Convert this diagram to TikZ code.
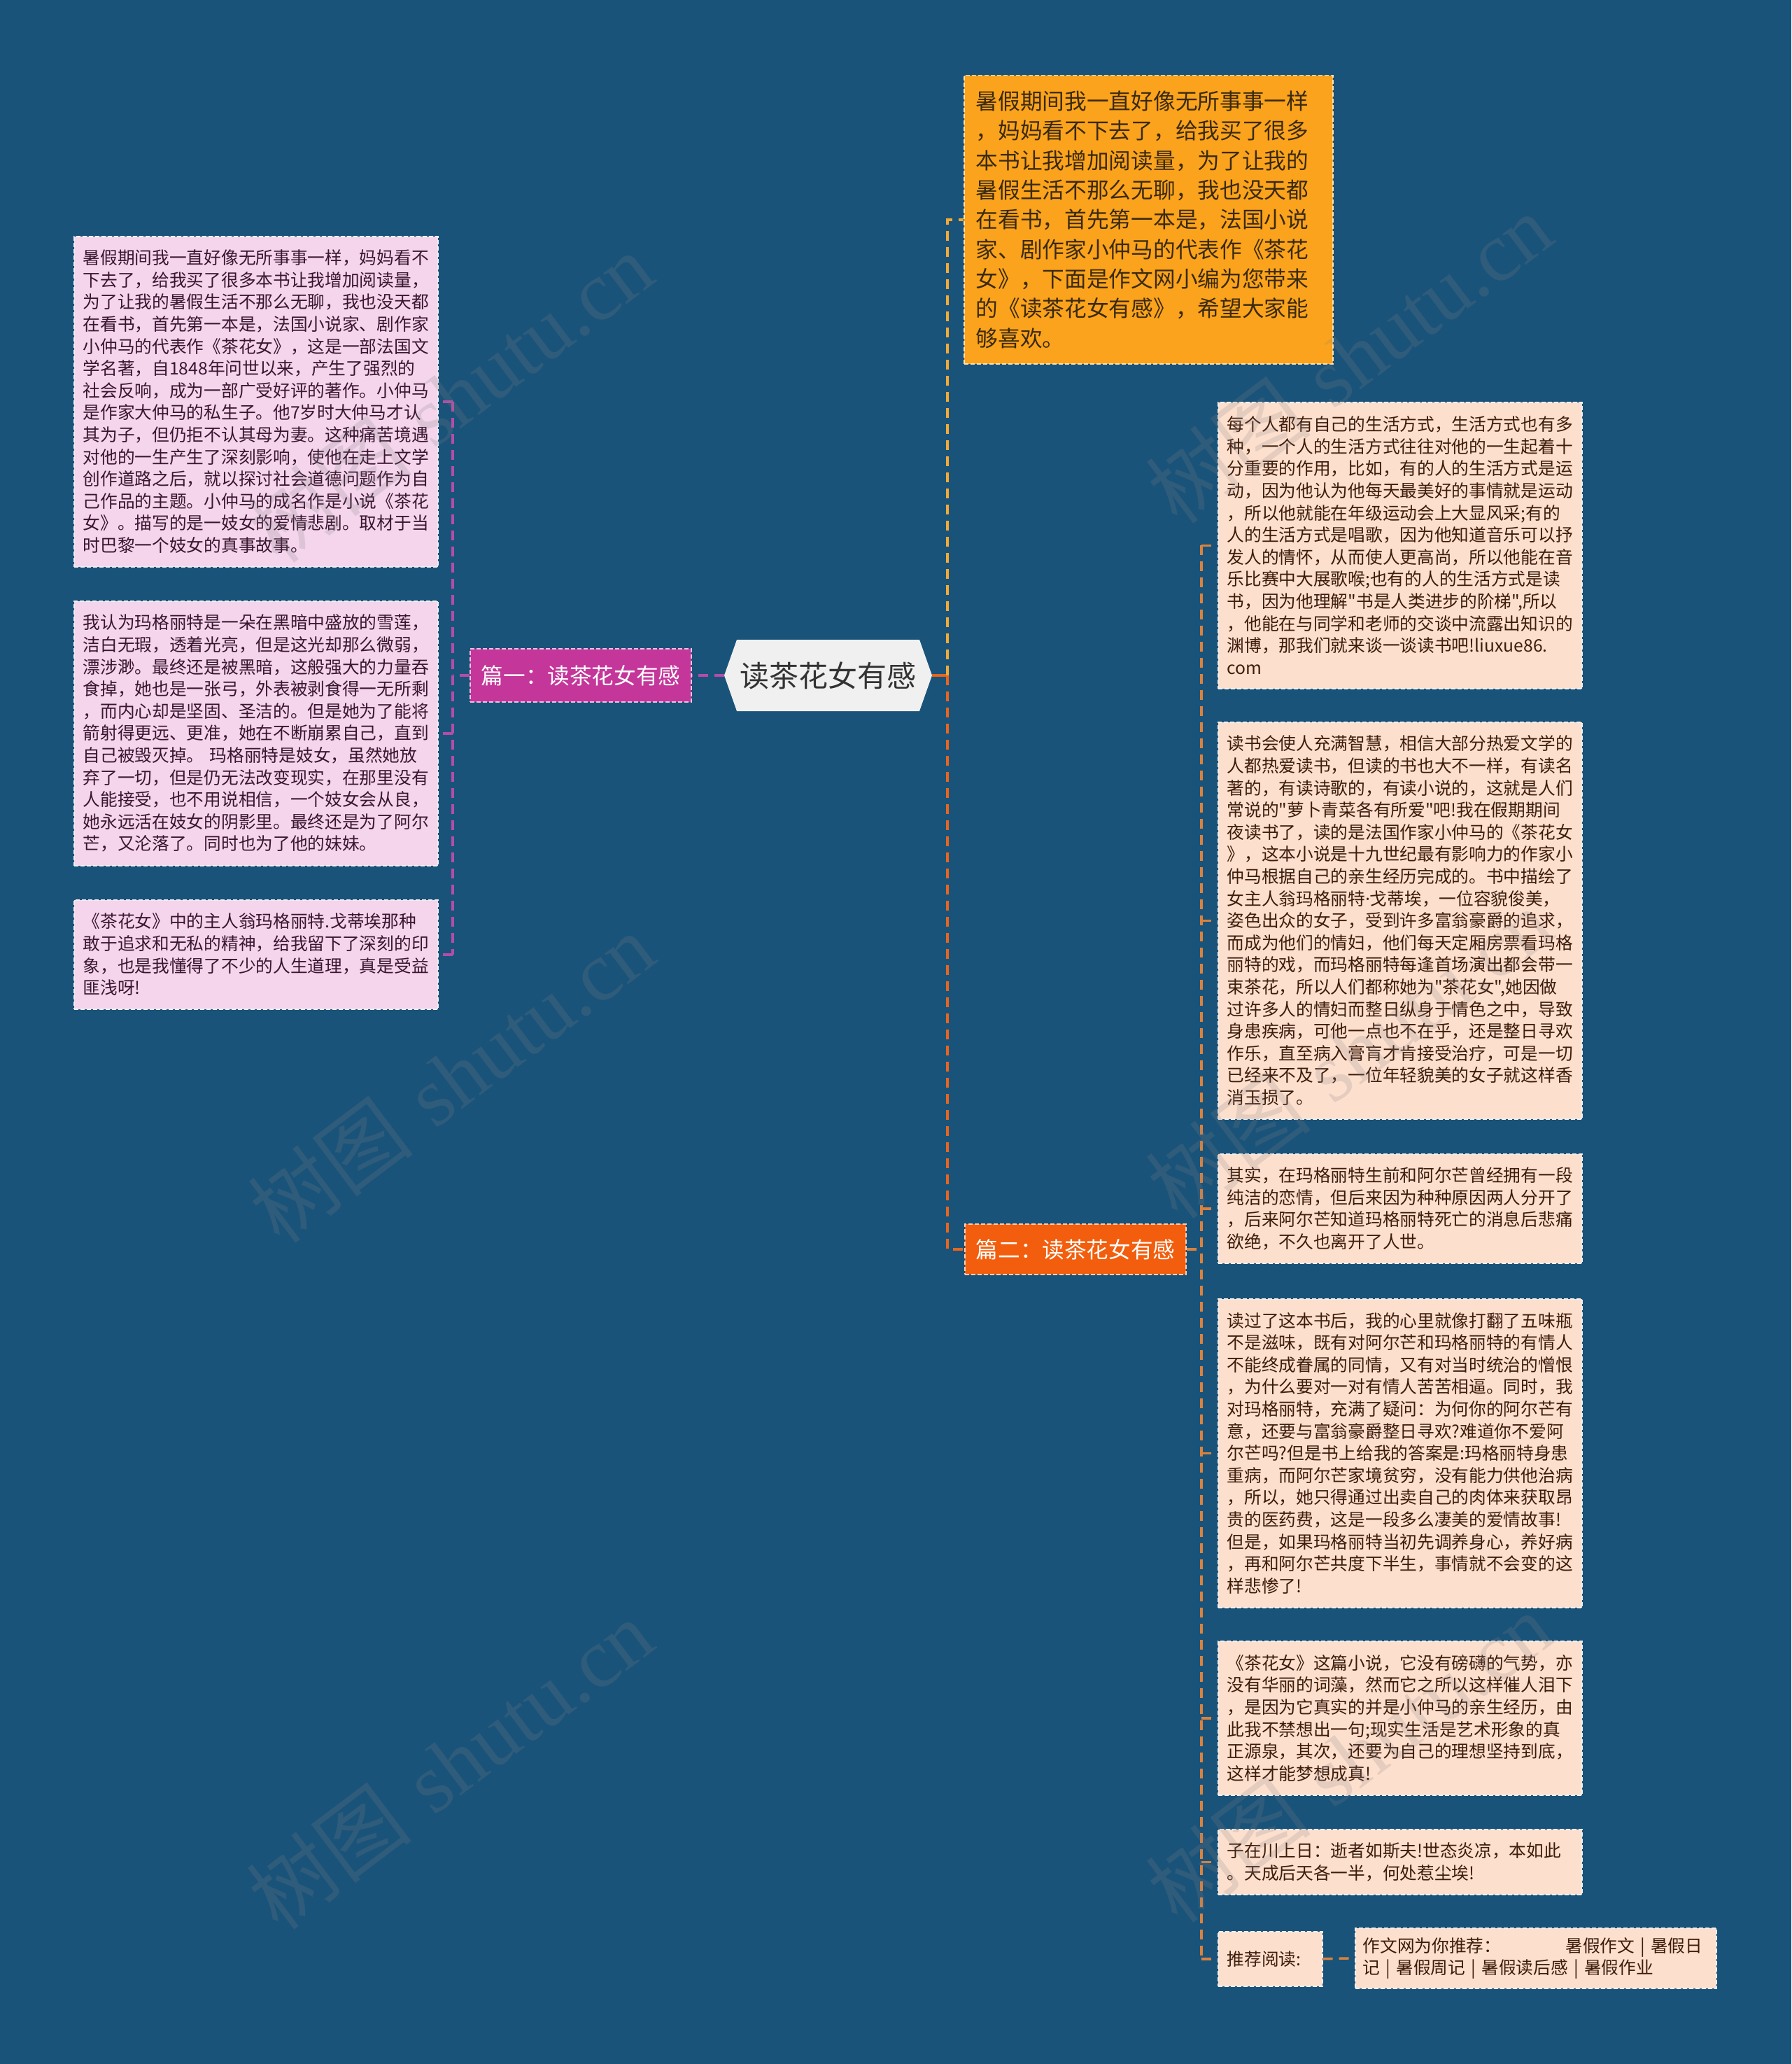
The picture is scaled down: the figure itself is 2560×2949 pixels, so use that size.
\documentclass[tikz,border=0pt]{standalone}
\usepackage{fontspec}
\newfontfamily\cjk{Noto Sans CJK SC}[Ligatures=TeXOff]
\newfontfamily\latsans{Noto Sans}
\newfontfamily\wmserif{Liberation Serif}
\definecolor{bgblue}{HTML}{1A5379}
\definecolor{pinkfill}{HTML}{F4D5EC}
\definecolor{pinktext}{HTML}{3A1530}
\definecolor{peachfill}{HTML}{FDDFCE}
\definecolor{peachtext}{HTML}{3E1C0C}
\definecolor{orangefill}{HTML}{FBA31C}
\definecolor{orangetext}{HTML}{3A2A10}
\definecolor{magfill}{HTML}{C4369A}
\definecolor{redfill}{HTML}{F25E0D}
\definecolor{centerfill}{HTML}{F0F0F0}
\definecolor{magline}{HTML}{B54DA8}
\definecolor{yelline}{HTML}{F2AA35}
\definecolor{redline}{HTML}{E8651F}
\definecolor{brline}{HTML}{D9823F}
\tikzset{
  conn/.style={line width=3.5pt, dash pattern=on 14pt off 9pt},
  magconn/.style={conn, draw=magline},
  yelconn/.style={conn, draw=yelline},
  redconn/.style={conn, draw=redline},
  brconn/.style={conn, draw=brline},
  textbox/.style={draw=white!88!gray, line width=1.5pt, dash pattern=on 6pt off 3pt,
    inner xsep=13pt, inner ysep=0pt, align=left, anchor=north west,
    font=\cjk\fontsize{24.7}{31.6}\selectfont, text width=494pt},
  pinkbox/.style={textbox, fill=pinkfill, text=pinktext},
  peachbox/.style={textbox, fill=peachfill, text=peachtext},
  topicbox/.style={draw=white!70!magfill, line width=1.5pt, dash pattern=on 6pt off 3pt,
    inner sep=0pt, font=\cjk\fontsize{31.6}{38}\selectfont, text=white,
    minimum width=316pt},
  watermark/.style={font=\fontsize{120}{130}\selectfont, text=gray, text opacity=0.2, rotate=37}
}
\begin{document}
\begin{tikzpicture}[x=1pt,y=-1pt]
\fill[bgblue] (0,0) rectangle (2560,2949);
\useasboundingbox (0,0) rectangle (2560,2949);

% center node
\fill[centerfill] (1035,965) -- (1053,914) -- (1314,914) -- (1332,965) -- (1314,1016) -- (1053,1016) -- cycle;
\node[font=\cjk\fontsize{42}{50}\selectfont, text=black!80, minimum width=297pt, minimum height=102pt, inner sep=0pt] (c) at (1183.5,965) {读茶花女有感};

% branch 1
\node[topicbox, fill=magfill, minimum height=76pt] (p1) at (830,965) {篇一：读茶花女有感};

\node[pinkbox, minimum height=472pt] (L1) at (105,337) {暑假期间我一直好像无所事事一样，妈妈看不\\
下去了，给我买了很多本书让我增加阅读量，\\
为了让我的暑假生活不那么无聊，我也没天都\\
在看书，首先第一本是，法国小说家、剧作家\\
小仲马的代表作《茶花女》，这是一部法国文\\
学名著，自1848年问世以来，产生了强烈的\\
社会反响，成为一部广受好评的著作。小仲马\\
是作家大仲马的私生子。他7岁时大仲马才认\\
其为子，但仍拒不认其母为妻。这种痛苦境遇\\
对他的一生产生了深刻影响，使他在走上文学\\
创作道路之后，就以探讨社会道德问题作为自\\
己作品的主题。小仲马的成名作是小说《茶花\\
女》。描写的是一妓女的爱情悲剧。取材于当\\
时巴黎一个妓女的真事故事。};

\node[pinkbox, minimum height=378pt] (L2) at (105,858) {我认为玛格丽特是一朵在黑暗中盛放的雪莲，\\
洁白无瑕，透着光亮，但是这光却那么微弱，\\
漂涉渺。最终还是被黑暗，这般强大的力量吞\\
食掉，她也是一张弓，外表被剥食得一无所剩\\
，而内心却是坚固、圣洁的。但是她为了能将\\
箭射得更远、更准，她在不断崩累自己，直到\\
自己被毁灭掉。 玛格丽特是妓女，虽然她放\\
弃了一切，但是仍无法改变现实，在那里没有\\
人能接受，也不用说相信，一个妓女会从良，\\
她永远活在妓女的阴影里。最终还是为了阿尔\\
芒，又沦落了。同时也为了他的妹妹。};

\node[pinkbox, minimum height=156pt] (L3) at (105,1285) {《茶花女》中的主人翁玛格丽特.戈蒂埃那种\\
敢于追求和无私的精神，给我留下了深刻的印\\
象，也是我懂得了不少的人生道理，真是受益\\
匪浅呀!};

% branch 2 (intro)
\node[draw=white!70!orangefill, line width=1.5pt, dash pattern=on 6pt off 3pt, fill=orangefill, text=orangetext,
  anchor=north west, inner xsep=17pt, inner ysep=0pt, align=left, text width=493pt, minimum height=412pt,
  font=\cjk\fontsize{31.7}{42.3}\selectfont] (ob) at (1377,107) {暑假期间我一直好像无所事事一样\\
，妈妈看不下去了，给我买了很多\\
本书让我增加阅读量，为了让我的\\
暑假生活不那么无聊，我也没天都\\
在看书，首先第一本是，法国小说\\
家、剧作家小仲马的代表作《茶花\\
女》，下面是作文网小编为您带来\\
的《读茶花女有感》，希望大家能\\
够喜欢。};

% branch 3
\node[topicbox, fill=redfill, draw=white!70!redfill, minimum height=72pt] (p2) at (1537,1785) {篇二：读茶花女有感};

\node[peachbox, minimum height=409pt] (R1) at (1740,574) {每个人都有自己的生活方式，生活方式也有多\\
种，一个人的生活方式往往对他的一生起着十\\
分重要的作用，比如，有的人的生活方式是运\\
动，因为他认为他每天最美好的事情就是运动\\
，所以他就能在年级运动会上大显风采;有的\\
人的生活方式是唱歌，因为他知道音乐可以抒\\
发人的情怀，从而使人更高尚，所以他能在音\\
乐比赛中大展歌喉;也有的人的生活方式是读\\
书，因为他理解"书是人类进步的阶梯",所以\\
，他能在与同学和老师的交谈中流露出知识的\\
渊博，那我们就来谈一谈读书吧!liuxue86.\\
com};

\node[peachbox, minimum height=567pt] (R2) at (1740,1031) {读书会使人充满智慧，相信大部分热爱文学的\\
人都热爱读书，但读的书也大不一样，有读名\\
著的，有读诗歌的，有读小说的，这就是人们\\
常说的"萝卜青菜各有所爱"吧!我在假期期间\\
夜读书了，读的是法国作家小仲马的《茶花女\\
》，这本小说是十九世纪最有影响力的作家小\\
仲马根据自己的亲生经历完成的。书中描绘了\\
女主人翁玛格丽特{\latsans ·}戈蒂埃，一位容貌俊美，\\
姿色出众的女子，受到许多富翁豪爵的追求，\\
而成为他们的情妇，他们每天定厢房票看玛格\\
丽特的戏，而玛格丽特每逢首场演出都会带一\\
束茶花，所以人们都称她为"茶花女",她因做\\
过许多人的情妇而整日纵身于情色之中，导致\\
身患疾病，可他一点也不在乎，还是整日寻欢\\
作乐，直至病入膏肓才肯接受治疗，可是一切\\
已经来不及了，一位年轻貌美的女子就这样香\\
消玉损了。};

\node[peachbox, minimum height=156pt] (R3) at (1740,1648) {其实，在玛格丽特生前和阿尔芒曾经拥有一段\\
纯洁的恋情，但后来因为种种原因两人分开了\\
，后来阿尔芒知道玛格丽特死亡的消息后悲痛\\
欲绝，不久也离开了人世。};

\node[peachbox, minimum height=441pt] (R4) at (1740,1855) {读过了这本书后，我的心里就像打翻了五味瓶\\
不是滋味，既有对阿尔芒和玛格丽特的有情人\\
不能终成眷属的同情，又有对当时统治的憎恨\\
，为什么要对一对有情人苦苦相逼。同时，我\\
对玛格丽特，充满了疑问：为何你的阿尔芒有\\
意，还要与富翁豪爵整日寻欢?难道你不爱阿\\
尔芒吗?但是书上给我的答案是:玛格丽特身患\\
重病，而阿尔芒家境贫穷，没有能力供他治病\\
，所以，她只得通过出卖自己的肉体来获取昂\\
贵的医药费，这是一段多么凄美的爱情故事!\\
但是，如果玛格丽特当初先调养身心，养好病\\
，再和阿尔芒共度下半生，事情就不会变的这\\
样悲惨了!};

\node[peachbox, minimum height=220pt] (R5) at (1740,2344) {《茶花女》这篇小说，它没有磅礴的气势，亦\\
没有华丽的词藻，然而它之所以这样催人泪下\\
，是因为它真实的并是小仲马的亲生经历，由\\
此我不禁想出一句;现实生活是艺术形象的真\\
正源泉，其次，还要为自己的理想坚持到底，\\
这样才能梦想成真!};

\node[peachbox, minimum height=93pt] (R6) at (1740,2613) {子在川上日：逝者如斯夫!世态炎凉，本如此\\
。天成后天各一半，何处惹尘埃!};

\node[peachbox, text width=123pt, minimum height=78pt] (tj) at (1740,2759) {推荐阅读:};

\node[peachbox, text width=494pt, minimum height=86pt, inner xsep=11pt] (tb) at (1936,2754) {作文网为你推荐：\hspace{92pt}暑假作文 | 暑假日\\
记 | 暑假周记 | 暑假读后感 | 暑假作业};

% connectors left
\coordinate (jl) at (647,965);
\draw[magconn] (c.west) -- (p1.east);
\draw[magconn] (p1.west) -- (jl);
\draw[magconn] (jl |- L1.east) -- (jl |- L3.east);
\foreach \n in {L1,L2,L3} \draw[magconn] (jl |- \n.east) -- (\n.east);

% connectors right
\coordinate (jr) at (1354,965);
\draw[line width=3.5pt, redline] (c.east) -- (jr);
\draw[yelconn] (jr) |- (ob.west);
\draw[redconn] (jr) |- (p2.west);
\coordinate (jr2) at (1717,1785);
\draw[brconn] (p2.east) -- (jr2);
\draw[brconn] (jr2 |- R1.west) -- (jr2 |- tj.west);
\foreach \n in {R1,R2,R3,R4,R5,R6,tj} \draw[brconn] (jr2 |- \n.west) -- (\n.west);
\draw[brconn] (tj.east) -- (tb.west);

% watermarks
\foreach \p [count=\i] in {(643,568),(645,1540),(643,2521),(1928,512),(1928,1505),(1928,2511)}
  \node[watermark] (wm\i) at \p {{\cjk 树图} {\wmserif shutu.cn}};
\end{tikzpicture}
\end{document}
